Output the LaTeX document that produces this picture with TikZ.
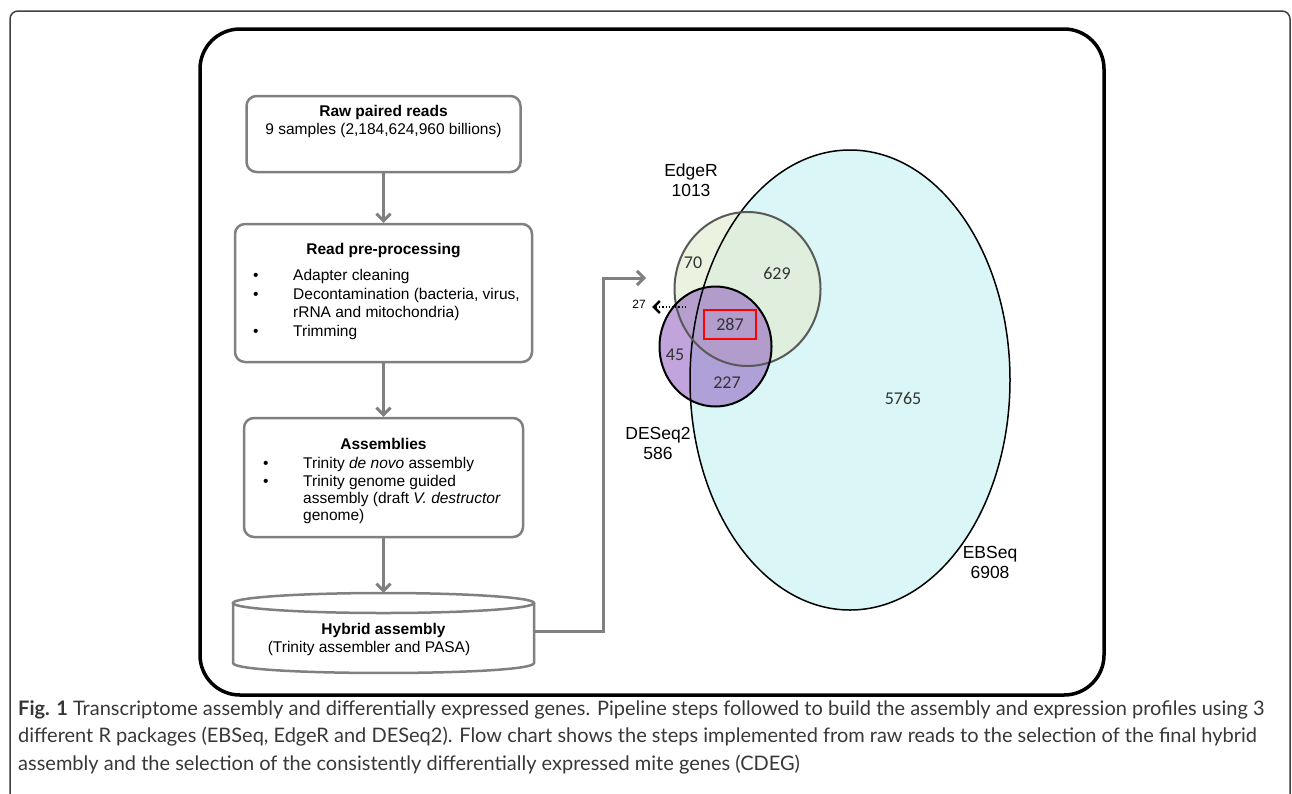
\documentclass[tikz,border=0pt]{standalone}
\usepackage{fontspec}
\setmainfont{Liberation Sans}
\newfontfamily\vennfont{Carlito}
\newfontfamily\capfont{Lato}
\usetikzlibrary{arrows.meta,positioning}
\definecolor{boxgray}{RGB}{128,128,128}
\definecolor{ebcyan}{RGB}{218,246,247}
\definecolor{edgegreen}{RGB}{226,236,210}
\definecolor{despurple}{RGB}{140,90,190}
\definecolor{captext}{RGB}{55,55,55}

\begin{document}
\begin{tikzpicture}[x=1pt,y=-1pt,>={Straight Barb[length=7pt,width=14pt]}]
  \tikzstyle{box}=[draw=boxgray,line width=2.5pt,rounded corners=10pt,inner sep=0pt]
  \tikzstyle{flow}=[draw=boxgray,line width=3pt,->]
  \tikzstyle{txt}=[font=\fontsize{15.5}{18.5}\selectfont,inner sep=0pt]
  \tikzstyle{vnum}=[font=\vennfont\fontsize{18}{20}\selectfont,text=black!80,inner sep=0pt]
  \tikzstyle{vlab}=[font=\fontsize{17.5}{20}\selectfont,align=center,inner sep=0pt]
  \useasboundingbox (0,0) rectangle (1292,793);
  % frames
  \draw[black!75,line width=1.5pt,rounded corners=8pt] (10,800) -- (10,11) -- (1290,11) -- (1290,800);
  \draw[line width=3.5pt,rounded corners=40pt] (200,29) rectangle (1104,695);
  % pipeline
  \node[box,minimum width=274pt,minimum height=76pt] (raw) at (383.5,134) {};
  \node[txt,align=center,below=10pt of raw.north] (rawtxt) {\textbf{Raw paired reads}\\9 samples (2,184,624,960 billions)};
  \node[box,minimum width=297pt,minimum height=138pt] (prep) at (383.5,293) {};
  \node[txt,below=20pt of prep.north] (preptitle) {\textbf{Read pre-processing}};
  \node[txt,align=left,anchor=north west] (preplist) at (253,269.5)
    {\makebox[40pt][l]{\textbullet}Adapter cleaning\\
     \makebox[40pt][l]{\textbullet}Decontamination (bacteria, virus,\\
     \hspace*{40pt}rRNA and mitochondria)\\
     \makebox[40pt][l]{\textbullet}Trimming};
  \node[box,minimum width=279pt,minimum height=119pt] (asm) at (383.5,477.5) {};
  \node[txt,below=21.5pt of asm.north] (asmtitle) {\textbf{Assemblies}};
  \node[txt,font=\fontsize{15.5}{17.3}\selectfont,align=left,anchor=north west] (asmlist) at (263,457.5)
    {\makebox[40pt][l]{\textbullet}Trinity \textit{de novo} assembly\\
     \makebox[40pt][l]{\textbullet}Trinity genome guided\\
     \hspace*{40pt}assembly (draft \textit{V. destructor}\\
     \hspace*{40pt}genome)};
  \node[minimum width=301pt,minimum height=77pt,inner sep=0pt] (hyb) at (383.5,631.5) {};
  \draw[boxgray,line width=2.5pt,fill=white] (233,603) -- (233,663) .. controls (233,676.3) and (534,676.3) .. (534,663) -- (534,603);
  \draw[boxgray,line width=2.5pt] (383.5,603) ellipse [x radius=150.5,y radius=10];
  \node[txt] (hybtitle) at (383.5,630) {\textbf{Hybrid assembly}};
  \node[txt] (hybsub) at (369,648) {(Trinity assembler and PASA)};
  \draw[flow] (raw.south) -- (prep.north);
  \draw[flow] (prep.south) -- (asm.north);
  \draw[flow] (asm.south) -- (hyb.north);
  \coordinate (vin) at (646,278);
  \draw[flow] (hyb.east) -- ++(69,0) |- (vin);
  % venn
  \fill[ebcyan] (850,380) ellipse [x radius=160,y radius=230];
  \fill[edgegreen,fill opacity=0.7] (747.5,289) ellipse [x radius=73,y radius=77];
  \fill[despurple,fill opacity=0.55] (715.5,346.5) ellipse [x radius=56,y radius=60];
  \draw[line width=1.5pt] (850,380) ellipse [x radius=160,y radius=230];
  \draw[black!65,line width=2pt] (747.5,289) ellipse [x radius=73,y radius=77];
  \draw[line width=2pt] (715.5,346.5) ellipse [x radius=56,y radius=60];
  \node[vnum] (n70) at (693,263) {70};
  \node[vnum] (n629) at (777,273) {629};
  \node[vnum,draw=red,line width=1.8pt,minimum width=52pt,minimum height=29pt] (n287) at (730,324.5) {287};
  \node[vnum] (n45) at (675,355) {45};
  \node[vnum] (n227) at (727,383) {227};
  \node[vnum] (n5765) at (903,398) {5765};
  \node[inner sep=0pt,font=\fontsize{12}{14}\selectfont] (n27) at (639,304) {27};
  \coordinate (dot27) at (686,307);
  \coordinate (tip27) at (652,307);
  \draw[dotted,line width=1.2pt,-{Straight Barb[length=6pt,width=12pt,line width=2.5pt]}] (dot27) -- (tip27);
  \node[vlab] (edger) at (691,180) {EdgeR\\1013};
  \node[vlab] (deseq) at (658,443) {DESeq2\\586};
  \node[vlab] (ebseq) at (990,562) {EBSeq\\6908};
  % caption
  \node[anchor=north west,inner sep=0pt,align=left,text=captext,font=\capfont\fontsize{20}{27.5}\selectfont] (caption) at (18,700)
    {\textbf{Fig. 1} Transcriptome assembly and differentially expressed genes. Pipeline steps followed to build the assembly and expression profiles using 3\\
     different R packages (EBSeq, EdgeR and DESeq2). Flow chart shows the steps implemented from raw reads to the selection of the final hybrid\\
     assembly and the selection of the consistently differentially expressed mite genes (CDEG)};
\end{tikzpicture}
\end{document}
